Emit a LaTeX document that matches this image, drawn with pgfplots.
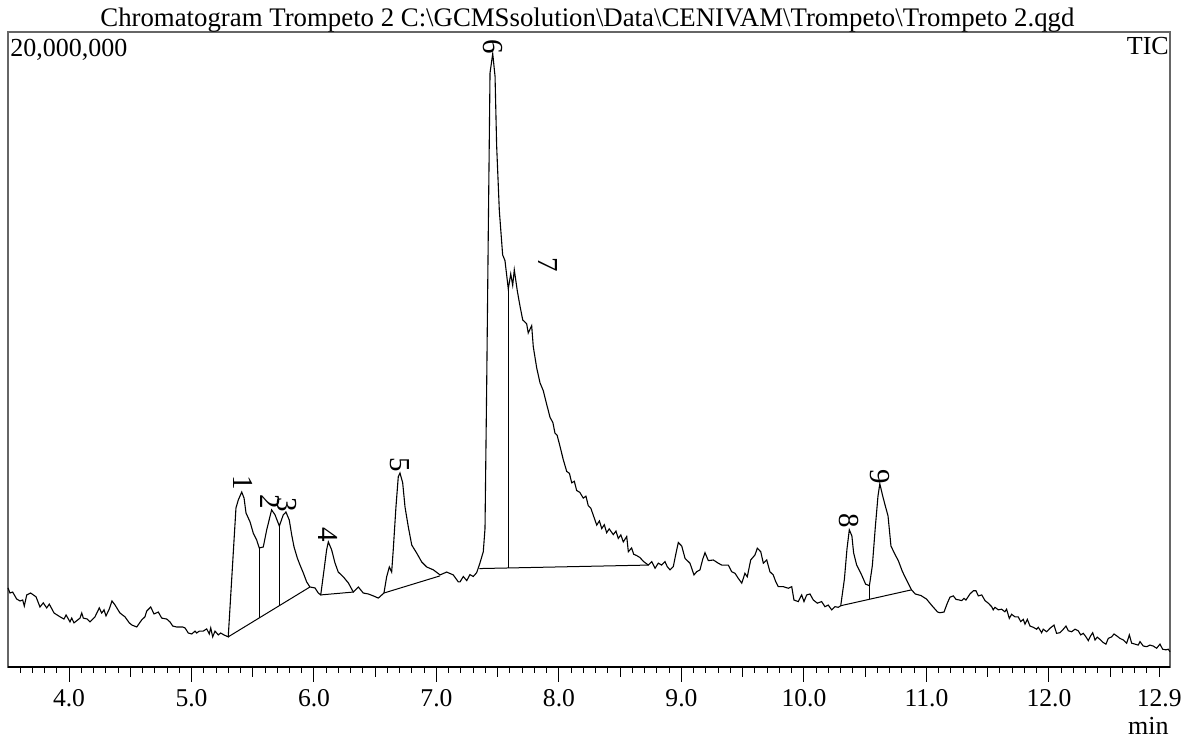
\documentclass[border=0pt]{standalone}
\usepackage{fontspec}
\setmainfont{Liberation Serif}
\usepackage{pgfplots}
\pgfplotsset{compat=1.18}
\usepackage{pgfplotstable}

\pgfplotstableread{
x y
3.502 2.49
3.518 2.33
3.540 2.36
3.573 2.14
3.600 2.08
3.622 2.11
3.635 1.92
3.655 2.27
3.687 2.33
3.731 2.21
3.763 1.89
3.790 2.02
3.818 1.86
3.839 1.98
3.878 1.70
3.927 1.58
3.959 1.51
3.976 1.64
4.008 1.42
4.022 1.54
4.041 1.39
4.090 1.54
4.104 1.70
4.117 1.54
4.149 1.51
4.171 1.42
4.212 1.58
4.247 1.86
4.267 1.70
4.286 1.80
4.302 1.61
4.329 1.83
4.351 2.08
4.376 1.95
4.416 1.70
4.457 1.58
4.492 1.39
4.514 1.32
4.553 1.26
4.593 1.48
4.620 1.58
4.634 1.76
4.667 1.89
4.694 1.67
4.729 1.73
4.757 1.54
4.798 1.51
4.824 1.42
4.847 1.29
4.879 1.26
4.928 1.26
4.947 1.23
4.974 1.07
5.002 1.04
5.029 1.13
5.042 1.07
5.064 1.13
5.096 1.13
5.124 1.20
5.145 1.04
5.157 1.23
5.173 0.95
5.192 1.13
5.219 1.01
5.238 1.07
5.265 1.01
5.300 0.95
5.363 5.01
5.382 5.26
5.410 5.51
5.429 5.32
5.445 4.85
5.478 4.57
5.504 4.22
5.532 4.00
5.553 3.75
5.586 3.78
5.614 4.32
5.654 4.95
5.682 4.79
5.717 4.44
5.749 4.79
5.771 4.88
5.798 4.63
5.818 4.16
5.837 3.78
5.864 3.43
5.886 3.21
5.913 2.96
5.940 2.68
5.967 2.52
6.008 2.49
6.035 2.33
6.055 2.27
6.082 3.06
6.103 3.69
6.117 3.94
6.144 3.69
6.171 3.28
6.198 2.99
6.239 2.84
6.280 2.65
6.321 2.36
6.362 2.52
6.402 2.33
6.443 2.30
6.484 2.24
6.525 2.17
6.571 2.33
6.593 2.84
6.615 3.15
6.634 2.99
6.647 3.69
6.669 5.04
6.688 5.99
6.702 6.11
6.724 5.80
6.743 5.04
6.770 4.41
6.798 3.84
6.838 3.59
6.879 3.31
6.920 3.15
6.974 3.06
7.029 2.90
7.083 2.99
7.137 2.90
7.178 2.68
7.192 2.68
7.219 2.85
7.247 2.72
7.273 2.91
7.300 2.85
7.328 2.97
7.355 3.28
7.382 3.63
7.396 4.36
7.410 8.95
7.423 13.77
7.437 18.71
7.459 19.32
7.478 18.60
7.491 16.42
7.513 14.37
7.540 12.98
7.559 12.80
7.586 11.91
7.606 12.38
7.622 12.02
7.635 12.51
7.660 11.84
7.682 11.36
7.704 10.93
7.736 10.81
7.749 10.52
7.777 10.75
7.790 10.09
7.818 9.42
7.845 8.95
7.872 8.70
7.891 8.40
7.927 7.86
7.950 7.70
7.967 7.37
7.985 7.30
8.008 6.95
8.035 6.53
8.063 6.16
8.085 6.10
8.104 5.80
8.125 5.85
8.144 5.56
8.170 5.50
8.198 5.32
8.220 5.38
8.239 5.08
8.260 5.00
8.280 4.78
8.308 4.47
8.330 4.60
8.349 4.36
8.370 4.48
8.389 4.23
8.410 4.35
8.443 4.17
8.465 4.28
8.484 4.05
8.505 4.16
8.525 3.94
8.553 4.11
8.566 3.63
8.593 3.75
8.610 3.55
8.634 3.51
8.660 3.45
8.688 3.33
8.729 3.21
8.757 3.32
8.784 3.11
8.811 3.27
8.838 3.21
8.865 3.32
8.884 3.16
8.906 3.06
8.933 3.16
8.955 3.58
8.974 3.92
9.002 3.81
9.029 3.42
9.069 3.27
9.102 2.90
9.124 3.00
9.151 3.06
9.173 3.39
9.192 3.60
9.219 3.35
9.260 3.37
9.300 3.27
9.328 3.21
9.382 3.21
9.410 3.00
9.437 2.95
9.464 2.79
9.492 2.64
9.518 2.95
9.537 2.84
9.565 3.37
9.600 3.53
9.619 3.74
9.647 3.63
9.668 3.27
9.696 3.37
9.722 3.00
9.749 2.90
9.769 2.69
9.790 2.53
9.831 2.53
9.872 2.48
9.900 2.53
9.918 2.11
9.953 2.06
9.981 2.27
10.000 2.06
10.022 2.27
10.049 2.30
10.076 2.11
10.109 2.01
10.144 2.06
10.171 1.90
10.198 1.95
10.226 1.80
10.253 1.90
10.280 1.88
10.300 1.93
10.330 2.77
10.351 3.72
10.370 4.32
10.391 4.13
10.405 3.60
10.430 3.21
10.467 2.93
10.503 2.61
10.534 2.56
10.558 3.19
10.583 4.44
10.604 5.38
10.619 5.77
10.643 5.38
10.664 5.07
10.686 4.76
10.710 3.81
10.741 3.56
10.771 3.34
10.802 3.02
10.833 2.77
10.878 2.43
10.908 2.30
10.955 2.25
11.000 2.14
11.045 1.93
11.091 1.73
11.110 1.71
11.143 1.73
11.170 2.01
11.192 2.20
11.219 2.24
11.241 2.13
11.268 2.11
11.287 2.09
11.306 2.16
11.322 2.11
11.355 2.30
11.382 2.40
11.404 2.40
11.423 2.24
11.451 2.27
11.478 2.09
11.504 2.01
11.532 1.90
11.545 1.80
11.559 1.88
11.586 1.80
11.613 1.82
11.640 1.74
11.654 1.82
11.676 1.53
11.695 1.66
11.722 1.58
11.749 1.58
11.769 1.43
11.790 1.50
11.804 1.35
11.823 1.50
11.845 1.29
11.872 1.25
11.899 1.19
11.913 1.25
11.940 1.08
11.953 1.19
11.981 1.11
12.008 1.22
12.041 1.32
12.062 1.06
12.090 1.08
12.117 1.19
12.139 1.29
12.158 1.14
12.185 1.11
12.212 1.19
12.239 1.14
12.259 1.01
12.280 1.06
12.302 0.95
12.321 0.83
12.340 0.98
12.357 1.08
12.376 0.85
12.394 0.94
12.416 0.87
12.443 0.77
12.465 0.72
12.484 0.90
12.512 0.95
12.531 1.04
12.553 0.98
12.580 0.90
12.607 0.85
12.634 0.75
12.656 1.01
12.675 0.75
12.702 0.72
12.729 0.69
12.743 0.80
12.770 0.66
12.798 0.64
12.824 0.69
12.851 0.66
12.879 0.59
12.906 0.72
12.928 0.56
12.955 0.54
12.974 0.56
12.988 0.48
}\tic

\begin{document}
\begin{tikzpicture}
\begin{axis}[
  scale only axis,
  width=581pt, height=317.5pt,
  xmin=3.502, xmax=12.988,
  ymin=0, ymax=20,
  clip=false,
  axis line style={draw=black!60, line width=0.6pt},
  xtick={4,4.5,5,5.5,6,6.5,7,7.5,8,8.5,9,9.5,10,10.5,11,11.5,12,12.5,12.9},
  xticklabels={4.0,,5.0,,6.0,,7.0,,8.0,,9.0,,10.0,,11.0,,12.0,,12.9},
  major tick length=5pt,
  extra x ticks={4,5,6,7,8,9,10,11,12},
  extra x tick labels={},
  extra x tick style={major tick length=7.5pt},
  minor xtick={3.6,3.7,3.8,3.9,4.1,4.2,4.3,4.4,4.6,4.7,4.8,4.9,5.1,5.2,5.3,5.4,5.6,5.7,5.8,5.9,6.1,6.2,6.3,6.4,6.6,6.7,6.8,6.9,7.1,7.2,7.3,7.4,7.6,7.7,7.8,7.9,8.1,8.2,8.3,8.4,8.6,8.7,8.8,8.9,9.1,9.2,9.3,9.4,9.6,9.7,9.8,9.9,10.1,10.2,10.3,10.4,10.6,10.7,10.8,10.9,11.1,11.2,11.3,11.4,11.6,11.7,11.8,11.9,12.1,12.2,12.3,12.4,12.6,12.7,12.8},
  minor tick length=2.85pt,
  tick align=outside,
  xtick pos=bottom,
  ytick=\empty,
  tick style={black, line width=0.5pt},
  xticklabel style={font=\fontsize{12.8}{15}\selectfont, inner sep=0pt, yshift=-6pt},
  /pgf/number format/assume math mode=true,
]
\addplot[black, line width=0.55pt] table[x=x,y=y]{\tic};
% integration baselines and drop lines
\addplot[black, line width=0.5pt] coordinates {(5.300,0.95) (5.967,2.52)};
\addplot[black, line width=0.6pt] coordinates {(5.553,3.75) (5.553,1.55)};
\addplot[black, line width=0.6pt] coordinates {(5.717,4.44) (5.717,1.93)};
\addplot[black, line width=0.5pt] coordinates {(6.055,2.27) (6.321,2.36)};
\addplot[black, line width=0.5pt] coordinates {(6.571,2.33) (7.029,2.87)};
\addplot[black, line width=0.5pt] coordinates {(7.350,3.10) (8.729,3.21)};
\addplot[black, line width=0.6pt] coordinates {(7.586,11.91) (7.586,3.12)};
\addplot[black, line width=0.5pt] coordinates {(10.300,1.93) (10.878,2.43)};
\addplot[black, line width=0.6pt] coordinates {(10.534,2.56) (10.534,2.13)};
% bottom axis line in black
\draw[black, line width=0.6pt] (rel axis cs:0,0) -- (rel axis cs:1,0);
% peak labels
\begin{scope}[every node/.style={font=\fontsize{14.5}{16}\selectfont, rotate=-90, inner sep=0pt}]
\node at (axis cs:5.423,5.79) {1};
\node at (axis cs:5.641,5.21) {2};
\node at (axis cs:5.777,5.10) {3};
\node at (axis cs:6.117,4.16) {4};
\node at (axis cs:6.702,6.36) {5};
\node at (axis cs:7.459,19.54) {6};
\node at (axis cs:7.913,12.66) {7};
\node at (axis cs:10.370,4.60) {8};
\node at (axis cs:10.620,6.00) {9};
\end{scope}
% texts
\node[anchor=base west, inner sep=0pt, font=\fontsize{13.4}{15}\selectfont] at ([xshift=46pt, yshift=2.7pt]rel axis cs:0,1) {Chromatogram Trompeto 2 C:\textbackslash GCMSsolution\textbackslash Data\textbackslash CENIVAM\textbackslash Trompeto\textbackslash Trompeto 2.qgd};
\node[anchor=base west, inner sep=0pt, font=\fontsize{13}{15}\selectfont] at ([xshift=1pt, yshift=-12.2pt]rel axis cs:0,1) {20,000,000};
\node[anchor=base east, inner sep=0pt, font=\fontsize{13}{15}\selectfont] at ([xshift=-0.4pt, yshift=-11.5pt]rel axis cs:1,1) {TIC};
\node[anchor=base east, inner sep=0pt, font=\fontsize{13}{15}\selectfont] at ([xshift=-0.5pt, yshift=-33.8pt]rel axis cs:1,0) {min};
\coordinate (SW) at (rel axis cs:0,0);
\coordinate (NE) at (rel axis cs:1,1);
\end{axis}
\pgfresetboundingbox
\path[use as bounding box] ([shift={(-4pt,-35.5pt)}]SW) rectangle ([shift={(8pt,16pt)}]NE);
\end{tikzpicture}
\end{document}
